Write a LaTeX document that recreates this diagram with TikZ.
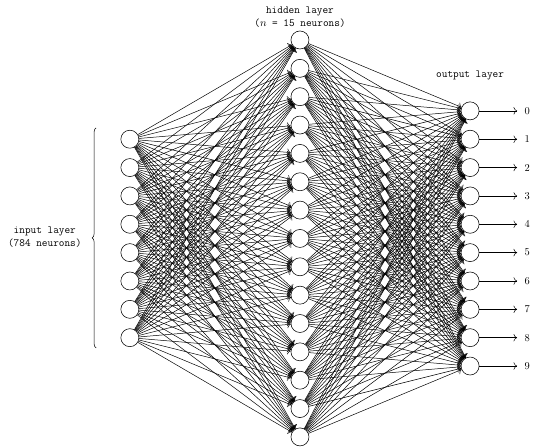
\documentclass[tikz,border=0pt]{standalone}
\usepackage{fontspec}
\usepackage{tikz}
\usetikzlibrary{
    decorations.pathreplacing,
    arrows.meta,
    calc,
    positioning
}

\begin{document}
\begin{tikzpicture}[
    neuron/.style={circle, draw, line width=0.55pt, minimum size=0.635cm, inner sep=0pt},
    layerlabel/.style={font=\fontsize{11}{13}\selectfont\ttfamily, align=center},
    line width=0.5pt,
    >={To[scale=1.3]}
]
\useasboundingbox (-10.58, -7.35) rectangle (8.36, 8.41);

% layers
\foreach \i in {1,...,8}
    \node[neuron] (I-\i) at (-6, 4.5-\i) {};
\foreach \i in {1,...,15}
    \node[neuron] (H-\i) at (0, 8-\i) {};
\foreach \i in {1,...,10}
    \node[neuron] (O-\i) at (6, 5.5-\i) {};

% connections
\foreach \i in {1,...,8}
    \foreach \j in {1,...,15}
        \draw[->] (I-\i) -- (H-\j);
\foreach \i in {1,...,15}
    \foreach \j in {1,...,10}
        \draw[->] (H-\i) -- (O-\j);

% outputs
\foreach \i [evaluate=\i as \digit using int(\i-1)] in {1,...,10} {
    \coordinate[right=1.33cm of O-\i] (E-\i);
    \draw[->] (O-\i) -- (E-\i);
    \node[right=0.14cm of E-\i, inner sep=0.333em, font=\fontsize{10.5}{12}\selectfont] (L-\i) {\digit};
}

% labels
\node[layerlabel, above=0cm of H-1] (hidden-label) {hidden layer\\($n$ = 15 neurons)};
\node[layerlabel, above=0.65cm of O-1] (output-label) {output layer};

\coordinate (brace-bot) at (-7.19, -3.86);
\coordinate (brace-top) at (-7.19, 3.9);
\draw[decorate, decoration={brace, amplitude=4pt}] (brace-bot) -- (brace-top);
\node[layerlabel] (input-label) at (-9, 0.05) {input layer\\(784 neurons)};
\end{tikzpicture}
\end{document}
